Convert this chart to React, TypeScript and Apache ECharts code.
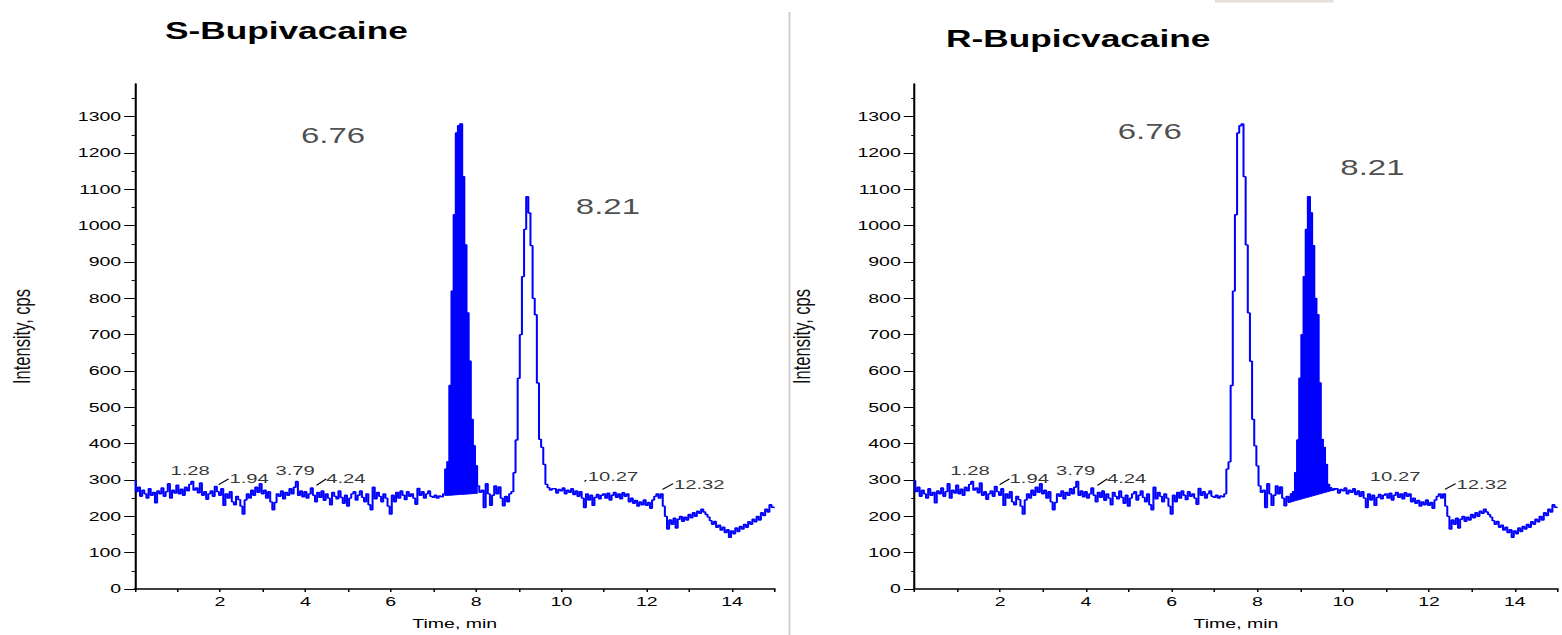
import React, { useEffect, useRef } from "react";
import * as echarts from "echarts";

// ---------- data ----------
const SAMPLE_STEP = 0.05; // minutes between detector readings
// intensity (cps) read every 0.05 min from 0 to 15 min
const intensity = [
  298, 268, 280, 255, 272, 262, 250, 276, 258, 266,
  237, 270, 262, 278, 255, 268, 290, 250, 272, 264,
  286, 262, 275, 258, 280, 270, 288, 296, 272, 278,
  265, 292, 258, 268, 247, 262, 270, 255, 282, 268,
  258, 276, 230, 262, 250, 268, 240, 232, 255, 246,
  228, 206, 245, 262, 250, 272, 258, 280, 266, 290,
  262, 272, 250, 268, 240, 218, 238, 262, 255, 270,
  248, 266, 258, 276, 262, 280, 296, 258, 270, 254,
  268, 250, 262, 278, 258, 240, 266, 252, 270, 244,
  262, 250, 232, 266, 255, 248, 270, 252, 236, 258,
  228, 250, 262, 268, 245, 258, 270, 252, 240, 262,
  232, 218, 280, 248, 266, 255, 240, 262, 250, 228,
  206, 258, 240, 266, 250, 270, 258, 246, 268, 255,
  262, 250, 233, 277, 258, 268, 250, 262, 270, 255,
  252, 258, 250, 256, 254, 262, 330, 350, 560, 820,
  1030, 1255, 1275, 1280, 1135, 947, 760, 627, 467, 394,
  339, 284, 266, 272, 224, 290, 262, 230, 258, 284,
  262, 281, 250, 229, 255, 240, 262, 268, 320, 410,
  580, 700, 860, 990, 1080, 1035, 945, 800, 755, 567,
  412, 390, 343, 288, 279, 272, 276, 276, 264, 274,
  270, 278, 262, 272, 266, 276, 260, 270, 255, 268,
  250, 224, 262, 245, 258, 230, 252, 260, 248, 258,
  262, 250, 264, 245, 258, 266, 252, 262, 248, 265,
  255, 262, 240, 250, 236, 244, 228, 240, 232, 245,
  230, 238, 222, 245, 255, 262, 250, 262, 228, 200,
  165, 190, 178, 195, 168, 192, 200, 186, 198, 190,
  205, 196, 210, 200, 214, 208, 220, 212, 205, 198,
  188, 178, 186, 170, 176, 162, 170, 155, 163, 142,
  160, 152, 168, 158, 172, 165, 178, 170, 185, 178,
  192, 185, 200, 190, 210, 202, 220, 212, 232, 225,
  224,
];

const panelTitles = ["S-Bupivacaine", "R-Bupicvacaine"];
const timeLabelValues = [2, 4, 6, 8, 10, 12, 14];
const intensityTickValues = [0, 100, 200, 300, 400, 500, 600, 700, 800, 900, 1000, 1100, 1200, 1300];

// integrated (filled) peak window per panel: [start, end] minutes, baseline [start, end] cps
const fillWindows = [[7.275, 8.025], [8.725, 9.825]];
const fillBaselines = [[257, 263], [238, 274]];

// small peak annotations
const peakNames = ["1.28", "1.94", "3.79", "4.24", "10.27", "12.32"];
const peakLabelTimes = [1.3, 2.68, 3.76, 4.95, 11.21, 13.23];
const peakLabelLevels = [327, 306, 328, 306, 309, 287];

// leader ticks next to some annotations: [t1, v1, t2, v2]
const leadersLeft = [
  [1.97, 287, 2.2, 303],
  [4.26, 285, 4.49, 303],
  [10.54, 296, 10.58, 300],
  [12.37, 274, 12.62, 290],
];
const leadersRight = [
  [1.99, 287, 2.22, 303],
  [4.27, 285, 4.5, 303],
  [12.37, 274, 12.62, 290],
];

// retention time captions
const rtNames = ["6.76", "8.21"];
const rtTimesLeft = [4.65, 11.09];
const rtLevelsLeft = [1248, 1053];
const rtTimesRight = [5.49, 10.68];
const rtLevelsRight = [1260, 1160];

// ---------- layout ----------
const STRETCH = 1.5;
const W = 1562 / STRETCH;
const H = 635;
const FONT = "Liberation Sans, Arial, sans-serif";
const BLUE = "#0000ff";

const traceData = intensity.map((v, i) => [+(i * SAMPLE_STEP).toFixed(2), v]);

function fillPolygon(win: number[], base: number[]) {
  const [t0, t1] = win;
  const pts: number[][] = [[t0, base[0]]];
  for (let k = 0; k < intensity.length; k++) {
    const tk = k * SAMPLE_STEP;
    const l = Math.max(tk - SAMPLE_STEP / 2, t0);
    const r = Math.min(tk + SAMPLE_STEP / 2, t1);
    if (r <= l) continue;
    pts.push([l, intensity[k]], [r, intensity[k]]);
  }
  pts.push([t1, base[1]]);
  return pts;
}

function buildOption() {
  const grids = [
    { left: 89.8, top: 84, width: 426.7, height: 507.7 },
    { left: 609.5, top: 84, width: 429, height: 507.7 },
  ];
  const xAxes = grids.map((_, i) => ({
    type: "value",
    gridIndex: i,
    min: 0,
    max: 15,
    interval: 1,
    name: "Time, min",
    nameLocation: "middle",
    nameGap: 28,
    nameTextStyle: { fontFamily: FONT, fontSize: 13, color: "#000" },
    axisLine: { show: true, onZero: false, lineStyle: { color: "#000", width: 1.6 } },
    axisTick: { show: true, length: 3, lineStyle: { color: "#000", width: 1 } },
    axisLabel: {
      customValues: timeLabelValues,
      formatter: (v: number) => (timeLabelValues.includes(v) ? String(v) : ""),
      margin: 6,
      fontFamily: FONT,
      fontSize: 13,
      color: "#000",
    },
    splitLine: { show: false },
  }));
  const yAxes = grids.map((_, i) => ({
    type: "value",
    gridIndex: i,
    min: 0,
    max: 1390,
    interval: 100,
    name: "Intensity, cps",
    nameLocation: "middle",
    nameRotate: 90,
    nameGap: 67,
    nameTextStyle: { fontFamily: FONT, fontSize: 16.5, color: "#111" },
    axisLine: { show: true, onZero: false, lineStyle: { color: "#000", width: 1.4 } },
    axisTick: { show: true, length: 7, customValues: intensityTickValues, lineStyle: { color: "#000", width: 1 } },
    minorTick: { show: true, splitNumber: 2, length: 2, lineStyle: { color: "#000", width: 1 } },
    axisLabel: {
      customValues: intensityTickValues,
      formatter: (v: number) => (intensityTickValues.includes(v) ? String(v) : ""),
      margin: 9,
      fontFamily: FONT,
      fontSize: 13,
      color: "#000",
    },
    splitLine: { show: false },
  }));

  const series: any[] = [];
  [0, 1].forEach((p) => {
    const poly = fillPolygon(fillWindows[p], fillBaselines[p]);
    series.push({
      type: "custom",
      xAxisIndex: p,
      yAxisIndex: p,
      silent: true,
      z: 2,
      data: [[fillWindows[p][0], fillBaselines[p][0]]],
      renderItem: (_params: any, api: any) => ({
        type: "polygon",
        shape: { points: poly.map((pt) => api.coord(pt)) },
        style: { fill: BLUE, stroke: BLUE, lineWidth: 0.8 },
      }),
    });
    series.push({
      type: "line",
      xAxisIndex: p,
      yAxisIndex: p,
      data: traceData,
      step: "middle",
      symbol: "none",
      silent: true,
      z: 3,
      lineStyle: { color: BLUE, width: 1.35 },
    });
    const leaders = p === 0 ? leadersLeft : leadersRight;
    series.push({
      type: "lines",
      coordinateSystem: "cartesian2d",
      xAxisIndex: p,
      yAxisIndex: p,
      silent: true,
      z: 4,
      lineStyle: { color: "#000", width: 1, opacity: 1 },
      data: leaders.map((l) => ({ coords: [[l[0], l[1]], [l[2], l[3]]] })),
    });
    series.push({
      type: "scatter",
      xAxisIndex: p,
      yAxisIndex: p,
      symbolSize: 0,
      silent: true,
      z: 5,
      data: peakNames.map((n, i) => ({ name: n, value: [peakLabelTimes[i], peakLabelLevels[i]] })),
      label: {
        show: true,
        position: "inside",
        formatter: "{b}",
        fontFamily: FONT,
        fontSize: 13.5,
        color: "#000",
      },
    });
    const rtT = p === 0 ? rtTimesLeft : rtTimesRight;
    const rtV = p === 0 ? rtLevelsLeft : rtLevelsRight;
    series.push({
      type: "scatter",
      xAxisIndex: p,
      yAxisIndex: p,
      symbolSize: 0,
      silent: true,
      z: 5,
      data: rtNames.map((n, i) => ({ name: n, value: [rtT[i], rtV[i]] })),
      label: {
        show: true,
        position: "inside",
        formatter: "{b}",
        fontFamily: FONT,
        fontSize: 22,
        color: "#1e1e1e",
      },
    });
  });

  return {
    animation: false,
    backgroundColor: "#ffffff",
    title: [
      {
        text: panelTitles[0],
        left: 110,
        top: 19,
        padding: 0,
        textStyle: { fontFamily: FONT, fontWeight: "bold", fontSize: 23.5, color: "#000" },
      },
      {
        text: panelTitles[1],
        left: 630.7,
        top: 27,
        padding: 0,
        textStyle: { fontFamily: FONT, fontWeight: "bold", fontSize: 23.5, color: "#000" },
      },
    ],
    grid: grids,
    xAxis: xAxes,
    yAxis: yAxes,
    series,
    graphic: [
      {
        type: "line",
        silent: true,
        shape: { x1: 526.3, y1: 12, x2: 526.3, y2: 635 },
        style: { stroke: "#cdcdcd", lineWidth: 1.3 },
      },
      {
        type: "rect",
        silent: true,
        shape: { x: 810, y: 0, width: 79, height: 2.5 },
        style: { fill: "#e4e0d8" },
      },
    ],
  };
}

export default function App() {
  const ref = useRef<HTMLDivElement>(null);
  useEffect(() => {
    document.body.style.margin = "0";
    document.body.style.overflow = "hidden";
    if (!ref.current) return;
    const chart = echarts.init(ref.current, undefined, { renderer: "svg" });
    chart.setOption(buildOption() as any);
    return () => chart.dispose();
  }, []);
  return (
    <div style={{ width: 1562, height: 635, overflow: "hidden", background: "#fff" }}>
      <div
        ref={ref}
        style={{
          width: W,
          height: H,
          transform: `scaleX(${STRETCH})`,
          transformOrigin: "0 0",
        }}
      />
    </div>
  );
}
